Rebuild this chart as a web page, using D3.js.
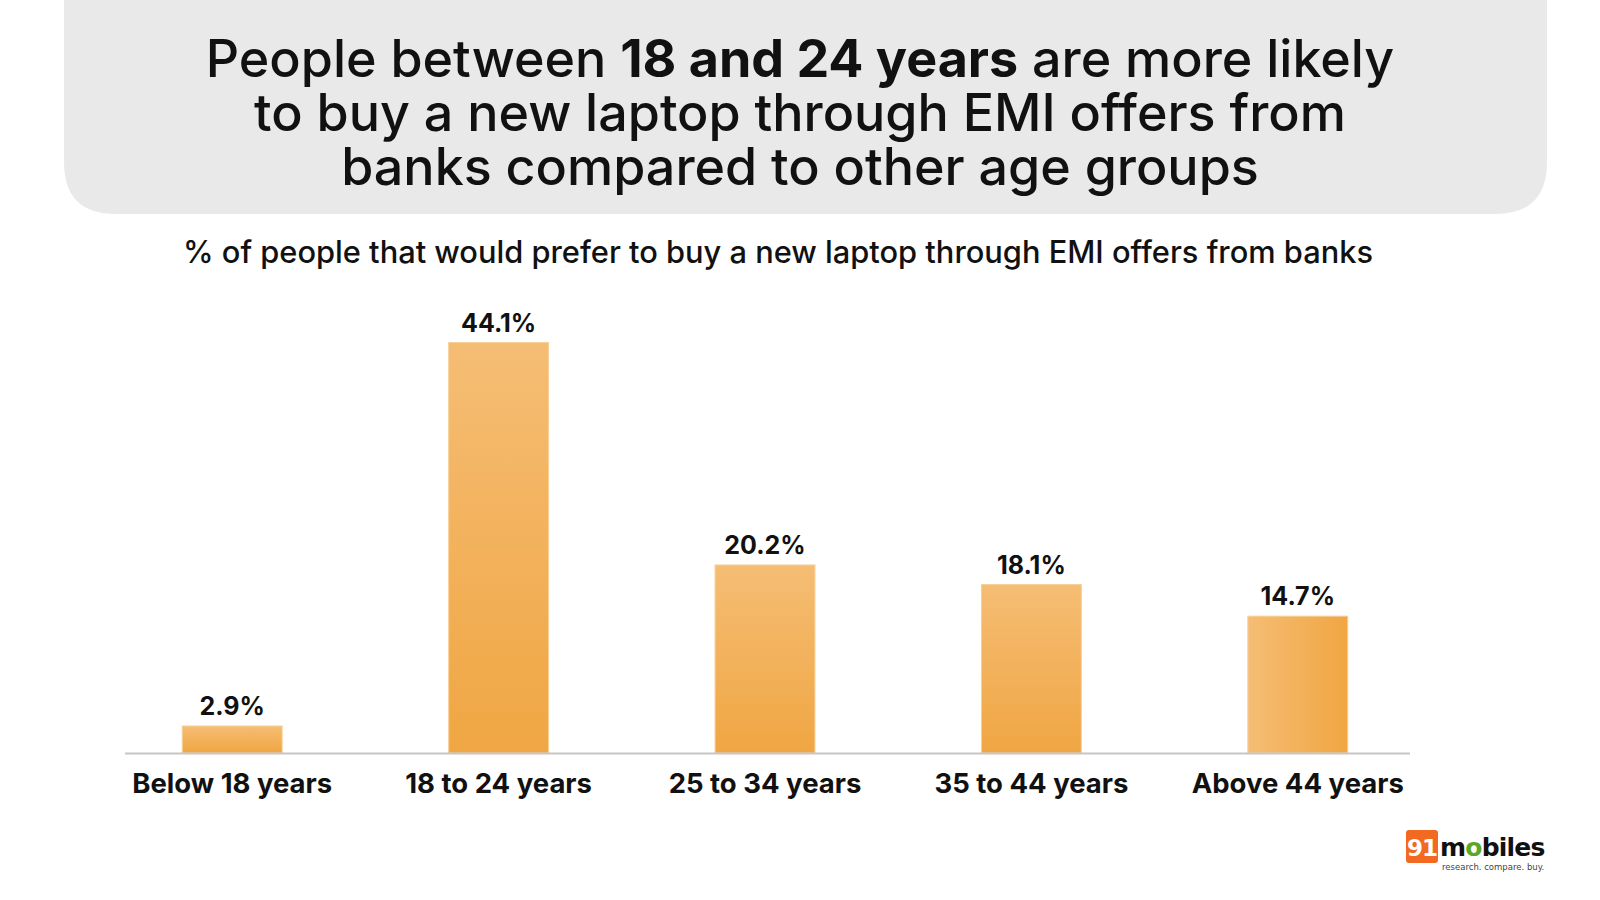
<!DOCTYPE html>
<html>
<head>
<meta charset="utf-8">
<script src="https://cdn.jsdelivr.net/npm/d3@7"></script>
<style>
  html, body { margin: 0; padding: 0; background: #ffffff; }
  svg { display: block; font-family: Inter, "Noto Sans", sans-serif; }
</style>
</head>
<body>
<script>
// chart data
var categories = ["Below 18 years", "18 to 24 years", "25 to 34 years", "35 to 44 years", "Above 44 years"];
var values = [2.9, 44.1, 20.2, 18.1, 14.7];
var valueLabels = ["2.9%", "44.1%", "20.2%", "18.1%", "14.7%"];

var titleLines = [
  [["People between ", 500], ["18 and 24 years", 700], [" are more likely", 500]],
  [["to buy a new laptop through EMI offers from", 500]],
  [["banks compared to other age groups", 500]]
];
var subtitle = "% of people that would prefer to buy a new laptop through EMI offers from banks";

var W = 1600, H = 900;

var svg = d3.select("body")
  .append("svg")
  .attr("width", W)
  .attr("height", H);

// gradients for bars
var defs = svg.append("defs");
var gv = defs.append("linearGradient")
  .attr("id", "barV").attr("x1", 0).attr("y1", 0).attr("x2", 0).attr("y2", 1);
gv.append("stop").attr("offset", "0%").attr("stop-color", "#f5bd74");
gv.append("stop").attr("offset", "100%").attr("stop-color", "#f0a643");
var gh = defs.append("linearGradient")
  .attr("id", "barH").attr("x1", 0).attr("y1", 0).attr("x2", 1).attr("y2", 0);
gh.append("stop").attr("offset", "0%").attr("stop-color", "#f5bd74");
gh.append("stop").attr("offset", "100%").attr("stop-color", "#f0a643");

// ---------------------------//
//       HEADER BOX           //
// ---------------------------//
var bx = 64, bw = 1483, bh = 214, r = 52;
svg.append("path")
  .attr("d", "M" + bx + ",0 H" + (bx + bw) + " V" + (bh - r) +
    " Q" + (bx + bw) + "," + bh + " " + (bx + bw - r) + "," + bh +
    " H" + (bx + r) + " Q" + bx + "," + bh + " " + bx + "," + (bh - r) + " Z")
  .attr("fill", "#e9e9e9");

// title, one text element per line
titleLines.forEach(function(line, i) {
  var lineText = svg.append("text")
    .attr("x", 800)
    .attr("y", 77 + i * 54)
    .attr("text-anchor", "middle")
    .style("font-size", "52px")
    .attr("fill", "#111");
  line.forEach(function(part) {
    lineText.append("tspan").text(part[0]).style("font-weight", part[1]);
  });
});

svg.append("text")
  .attr("x", 778)
  .attr("y", 263)
  .attr("text-anchor", "middle")
  .style("font-size", "30.8px")
  .style("font-weight", 500)
  .attr("fill", "#111")
  .text(subtitle);

// ---------------------------//
//       SCALES               //
// ---------------------------//
var x = d3.scaleBand()
  .domain(categories)
  .range([99, 1431])
  .paddingInner(0.625)
  .paddingOuter(0.3125);

var y = d3.scaleLinear()
  .domain([0, 44.8])
  .range([753, 336]);

// bars
svg.append("g")
  .selectAll("rect")
  .data(values)
  .enter()
  .append("rect")
  .attr("x", function(d, i) { return x(categories[i]); })
  .attr("y", function(d) { return y(d); })
  .attr("width", x.bandwidth())
  .attr("height", function(d) { return y(0) - y(d); })
  .attr("fill", function(d, i) { return i === categories.length - 1 ? "url(#barH)" : "url(#barV)"; })
  .attr("stroke", "#f8cf97")
  .attr("stroke-width", 1);

// baseline
svg.append("line")
  .attr("x1", 125).attr("x2", 1410)
  .attr("y1", y(0) + 0.5).attr("y2", y(0) + 0.5)
  .attr("stroke", "#c6c6c6")
  .attr("stroke-width", 2);

// value labels
svg.append("g")
  .selectAll("text")
  .data(values)
  .enter()
  .append("text")
  .attr("x", function(d, i) { return x(categories[i]) + x.bandwidth() / 2; })
  .attr("y", function(d) { return y(d) - 11; })
  .attr("text-anchor", "middle")
  .style("font-size", "25px")
  .style("font-weight", 700)
  .attr("fill", "#111")
  .text(function(d, i) { return valueLabels[i]; });

// category axis labels
var xAxis = svg.append("g")
  .attr("transform", "translate(0," + y(0) + ")")
  .call(d3.axisBottom(x).tickSize(0).tickPadding(0));
xAxis.select(".domain").remove();
xAxis.selectAll("text")
  .attr("dy", 0)
  .attr("y", 40)
  .style("font-family", "Inter, 'Noto Sans', sans-serif")
  .style("font-size", "27.5px")
  .style("font-weight", 700)
  .attr("fill", "#111");

// ---------------------------//
//       LOGO                 //
// ---------------------------//
var logo = svg.append("g").attr("transform", "translate(1406,830)");
logo.append("rect")
  .attr("x", 0).attr("y", 0).attr("width", 32).attr("height", 33).attr("rx", 3)
  .attr("fill", "#f26a21");
logo.append("text")
  .attr("x", 16).attr("y", 26)
  .attr("text-anchor", "middle")
  .style("font-family", "'DejaVu Sans', sans-serif")
  .style("font-size", "23px")
  .style("font-weight", 700)
  .style("letter-spacing", "-1px")
  .attr("fill", "#fff")
  .text("91");
var word = logo.append("text")
  .attr("x", 34).attr("y", 26)
  .style("font-family", "'DejaVu Sans', sans-serif")
  .style("font-size", "25px")
  .style("font-weight", 700)
  .style("letter-spacing", "-0.8px")
  .attr("fill", "#111");
word.append("tspan").text("m");
word.append("tspan").attr("fill", "#5aa827").text("o");
word.append("tspan").text("biles");
logo.append("text")
  .attr("x", 36).attr("y", 40)
  .style("font-family", "'DejaVu Sans', sans-serif")
  .style("font-size", "8.5px")
  .attr("fill", "#444")
  .text("research. compare. buy.");
</script>
</body>
</html>
